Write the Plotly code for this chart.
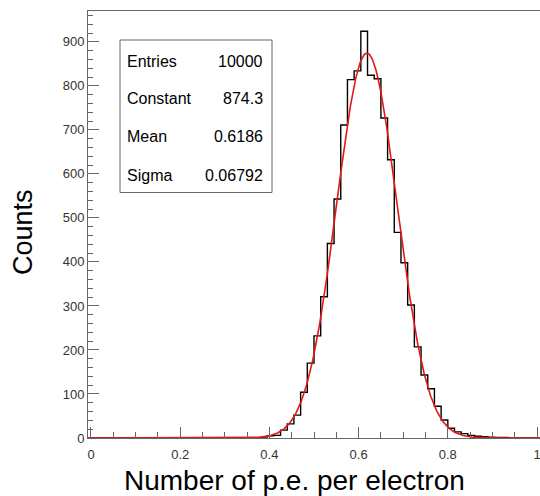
import numpy as np
import plotly.graph_objects as go

# ---- data ----
bin_width = 0.015
first_edge = 0.38
counts = [2, 5, 6, 18, 32, 52, 104, 170, 232, 321, 442, 543, 711, 814, 834,
          924, 824, 816, 727, 632, 467, 398, 302, 207, 143, 112, 72, 41, 22,
          14, 10, 6, 4, 3, 2, 1, 1]
stat_labels = ["Entries", "Constant", "Mean", "Sigma"]
stat_values = ["10000", "874.3", "0.6186", "0.06792"]
fit_constant = 874.3
fit_mean = 0.6186
fit_sigma = 0.06792
x_ticks = [0, 0.2, 0.4, 0.6, 0.8, 1.0]
x_ticktext = ["0", "0.2", "0.4", "0.6", "0.8", "1"]

W, H = 540, 496
L, R, T, B = 88, 0, 11, 58
xr = [-0.0067, 1.0067]
yr = [0, 970]

# histogram outline (step)
edges = [first_edge + i * bin_width for i in range(len(counts) + 1)]
hx = [xr[0], first_edge] + edges
hy = [0, 0] + counts + [0]
hx = hx + [xr[1]]
hy = hy + [0]

# Gaussian fit curve
fx = np.linspace(xr[0], xr[1], 800)
fy = fit_constant * np.exp(-0.5 * ((fx - fit_mean) / fit_sigma) ** 2)

fig = go.Figure()
fig.add_trace(go.Scatter(x=hx, y=hy, mode="lines", line=dict(shape="hv", color="black", width=1.4),
                         hoverinfo="skip", showlegend=False))
fig.add_trace(go.Scatter(x=fx, y=fy, mode="lines", line=dict(color="#e01818", width=1.6),
                         hoverinfo="skip", showlegend=False))

pw = W - L - R
ph = H - T - B


def pxx(p):
    return (p - L) / pw


def pxy(p):
    return (H - B - p) / ph


axis_common = dict(showgrid=False, zeroline=False, showline=True, mirror=True,
                   linecolor="#666666", linewidth=1, ticks="inside", tickcolor="#666666",
                   ticklabeloverflow="allow",
                   tickfont=dict(family="Liberation Sans, Arial, sans-serif", size=13, color="#333333"))

fig.update_layout(
    width=W, height=H, margin=dict(l=L, r=R, t=T, b=B),
    paper_bgcolor="white", plot_bgcolor="white",
    xaxis=dict(range=xr, tickvals=x_ticks, ticktext=x_ticktext, ticklen=11,
               ticklabelstandoff=4,
               minor=dict(dtick=0.05, tick0=0, ticks="inside", ticklen=6, tickcolor="#666666", showgrid=False),
               **axis_common),
    yaxis=dict(range=yr, dtick=100, tick0=0, ticklen=11,
               minor=dict(dtick=20, tick0=0, ticks="inside", ticklen=5, tickcolor="#666666", showgrid=False),
               **axis_common),
    showlegend=False,
)

# stats box
fig.add_shape(type="rect", xref="paper", yref="paper",
              x0=pxx(120), x1=pxx(272), y0=pxy(192.5), y1=pxy(40),
              line=dict(color="#666666", width=1), fillcolor="white", layer="above")
row_y = [61.7, 98.5, 136.7, 175]
for lab, val, py in zip(stat_labels, stat_values, row_y):
    fig.add_annotation(text=lab, xref="paper", yref="paper", x=pxx(125), y=pxy(py),
                       xanchor="left", yanchor="middle", showarrow=False,
                       font=dict(family="Liberation Sans, Arial, sans-serif", size=16, color="black"))
    fig.add_annotation(text=val, xref="paper", yref="paper", x=pxx(265), y=pxy(py),
                       xanchor="right", yanchor="middle", showarrow=False,
                       font=dict(family="Liberation Sans, Arial, sans-serif", size=16, color="black"))

# axis titles
fig.add_annotation(text="Number of p.e. per electron", xref="paper", yref="paper",
                   x=pxx(294.5), y=pxy(481), xanchor="center", yanchor="middle", showarrow=False,
                   font=dict(family="Liberation Sans, Arial, sans-serif", size=28, color="black"))
fig.add_annotation(text="Counts", xref="paper", yref="paper", textangle=-90,
                   x=pxx(23), y=pxy(232), xanchor="center", yanchor="middle", showarrow=False,
                   font=dict(family="Liberation Sans, Arial, sans-serif", size=27, color="black"))

fig.write_html("out.html")
